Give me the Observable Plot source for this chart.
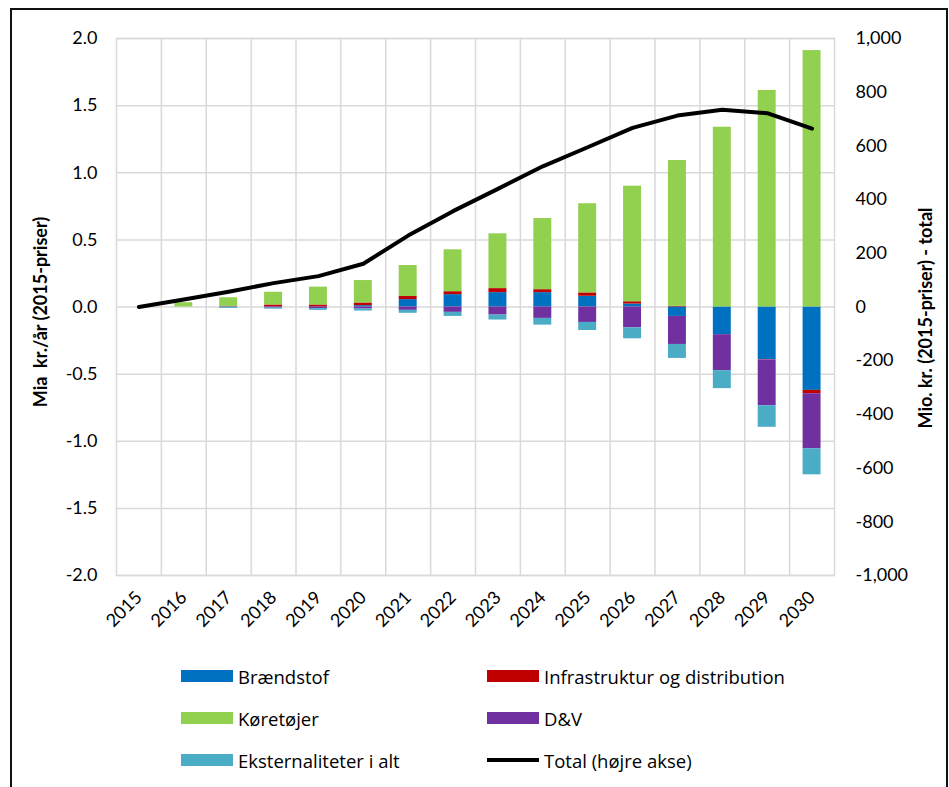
<!DOCTYPE html>
<html><head><meta charset="utf-8">
<script src="https://cdn.jsdelivr.net/npm/d3@7"></script>
<script src="https://cdn.jsdelivr.net/npm/@observablehq/plot@0.6"></script>
<style>
body{margin:0;background:#fff;overflow:hidden;font-family:Lato,"Liberation Sans",sans-serif;}
#wrap{position:relative;width:949px;height:787px;overflow:hidden;}
#frame{position:absolute;left:10px;top:8px;width:934px;height:900px;border:2px solid #111;box-sizing:content-box;}
#chart{position:absolute;left:0;top:0;}
.leg{position:absolute;font-family:"Open Sans",Lato,sans-serif;font-size:18.5px;color:#000;display:flex;align-items:center;height:20px;white-space:nowrap;}
.sw{width:52px;height:12px;margin-right:5px;flex:none;}
.ln{width:52px;height:4px;margin-right:5px;background:#000;flex:none;}
.ytitle{position:absolute;font-weight:bold;font-size:18px;white-space:nowrap;transform:translate(-50%,-50%) rotate(-90deg);}
</style></head><body>
<div id="wrap"><div id="frame"></div><div id="chart"></div><div id="legend"></div></div>
<script>
const years = [2015,2016,2017,2018,2019,2020,2021,2022,2023,2024,2025,2026,2027,2028,2029,2030];
const seriesNames = ["Brændstof","Infrastruktur og distribution","Køretøjer","D&V","Eksternaliteter i alt"];
const seriesColors = ["#0070C0","#C00000","#92D050","#7030A0","#4BACC6"];
// Mia kr./år (2015-priser)
const braendstof = [0,0,0,0,0,0.01,0.055,0.092,0.107,0.107,0.08,0.022,-0.07,-0.206,-0.392,-0.621];
const infrastruktur = [0,0,0.005,0.015,0.015,0.02,0.023,0.022,0.03,0.022,0.025,0.017,0.005,0,-0.003,-0.025];
const koeretoejer = [0,0.032,0.064,0.095,0.133,0.167,0.231,0.312,0.408,0.53,0.664,0.861,1.086,1.339,1.613,1.91];
const dv = [0,0,0,-0.008,-0.012,-0.015,-0.025,-0.04,-0.06,-0.085,-0.115,-0.155,-0.209,-0.268,-0.34,-0.41];
const eksternaliteter = [0,0,-0.01,-0.008,-0.013,-0.015,-0.022,-0.03,-0.037,-0.05,-0.06,-0.082,-0.104,-0.134,-0.161,-0.194];
// Mio. kr. (2015-priser) - total (right axis)
const total = [0,28,57,89,115,161,266,357,440,524,595,667,713,735,722,664];
const leftTicks = [-2,-1.5,-1,-0.5,0,0.5,1,1.5,2];
const leftTickLabels = ["-2.0","-1.5","-1.0","-0.5","0.0","0.5","1.0","1.5","2.0"];
const rightTicks = [-1000,-800,-600,-400,-200,0,200,400,600,800,1000];
const rightTickLabels = ["-1,000","-800","-600","-400","-200","0","200","400","600","800","1,000"];
const rightPerLeft = 500; // 1 Mia on left axis = 500 Mio on right axis

const seriesValues = [braendstof, infrastruktur, koeretoejer, dv, eksternaliteter];
const rows = [];
years.forEach((yr, i) => seriesNames.forEach((s, k) => rows.push({year: yr, series: s, value: seriesValues[k][i]})));
const lineRows = years.map((yr, i) => ({year: yr, total: total[i]}));

const W = 949, H = 655, mL = 116, mR = 115, mT = 38, mB = 80;
const step = (W - mL - mR) / years.length;
const grid = "#d9d9d9";
const leftMap = new Map(leftTicks.map((t, i) => [t, leftTickLabels[i]]));
const rightMap = new Map(rightTicks.map((t, i) => [t, rightTickLabels[i]]));

const chart = Plot.plot({
  width: W, height: H,
  marginLeft: mL, marginRight: mR, marginTop: mT, marginBottom: mB,
  style: {fontFamily: "Lato, 'Liberation Sans', sans-serif", fontSize: "18px", color: "#000", background: "transparent"},
  x: {type: "band", domain: years, paddingInner: 0.6, paddingOuter: 0.3, round: false},
  y: {domain: [-2, 2]},
  color: {domain: seriesNames, range: seriesColors},
  marks: [
    Plot.gridY(leftTicks, {stroke: grid, strokeOpacity: 1, strokeWidth: 1.5}),
    Plot.ruleX(years.slice(1), {x: d => d, dx: -step / 2, y1: -2, y2: 2, stroke: grid, strokeWidth: 1.5}),
    Plot.frame({stroke: grid, strokeWidth: 1.5}),
    Plot.barY(rows, {x: "year", y: "value", fill: "series"}),
    Plot.lineY(lineRows, {x: "year", y: d => d.total / rightPerLeft, stroke: "#000", strokeWidth: 4}),
    Plot.axisY(leftTicks, {anchor: "left", tickSize: 0, tickPadding: 19, tickFormat: d => leftMap.get(d), label: null, fontSize: 18}),
    Plot.axisY(rightTicks.map(v => v / rightPerLeft), {anchor: "right", tickSize: 0, tickPadding: 21, tickFormat: d => rightMap.get(Math.round(d * rightPerLeft)), label: null, fontSize: 18}),
    Plot.axisX(years, {anchor: "bottom", tickSize: 0, tickPadding: 19, tickRotate: -45, tickFormat: d => String(d), label: null, fontSize: 18})
  ]
});
document.getElementById("chart").appendChild(chart);

// axis titles
const wrap = document.getElementById("wrap");
function addTitle(text, cx, cy) {
  const d = document.createElement("div");
  d.className = "ytitle"; d.textContent = text;
  d.style.left = cx + "px"; d.style.top = cy + "px";
  wrap.appendChild(d);
}
addTitle("Mia\u00a0 kr./år (2015-priser)", 40, 312);
addTitle("Mio. kr. (2015-priser) - total", 925, 318);

// legend
const legendItems = [
  {label: seriesNames[0], color: seriesColors[0], col: 0, row: 0},
  {label: seriesNames[1], color: seriesColors[1], col: 1, row: 0},
  {label: seriesNames[2], color: seriesColors[2], col: 0, row: 1},
  {label: seriesNames[3], color: seriesColors[3], col: 1, row: 1},
  {label: seriesNames[4], color: seriesColors[4], col: 0, row: 2},
  {label: "Total (højre akse)", color: null, col: 1, row: 2}
];
const colX = [181, 487], rowY = [676, 718, 760];
const leg = document.getElementById("legend");
legendItems.forEach(it => {
  const d = document.createElement("div");
  d.className = "leg";
  d.style.left = colX[it.col] + "px";
  d.style.top = (rowY[it.row] - 10) + "px";
  const sw = document.createElement("span");
  if (it.color) { sw.className = "sw"; sw.style.background = it.color; } else { sw.className = "ln"; }
  const t = document.createElement("span"); t.textContent = it.label;
  d.appendChild(sw); d.appendChild(t);
  leg.appendChild(d);
});
</script>
</body></html>
